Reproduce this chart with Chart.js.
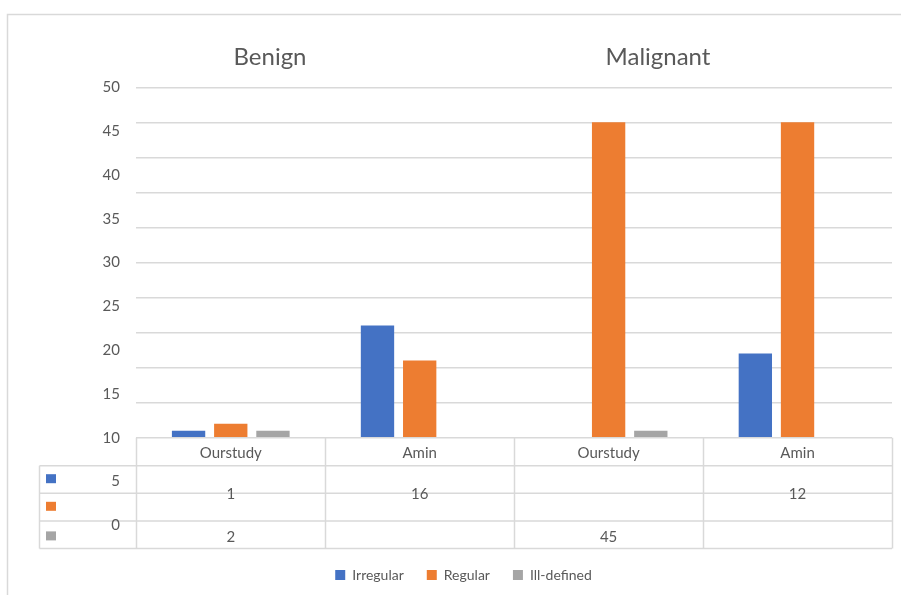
<!DOCTYPE html>
<html>
<head>
<meta charset="utf-8">
<title>Benign / Malignant</title>
<script src="https://cdn.jsdelivr.net/npm/chart.js@4.4.1/dist/chart.umd.min.js"></script>
<style>
  body { margin: 0; background: #fff; }
  canvas { display: block; }
</style>
</head>
<body>
<canvas id="chart" width="901" height="595"></canvas>
<script>
const categories = ['Ourstudy', 'Amin', 'Ourstudy', 'Amin'];
const groupTitles = ['Benign', 'Malignant'];
const seriesNames = ['Irregular', 'Regular', 'Ill-defined'];
const irregular = [1, 16, null, 12];
const regular = [2, 11, 45, 45];
const illDefined = [1, null, 1, null];
// tick labels as printed on the left (they do not sit on the gridlines)
const tickLabels = [50, 45, 40, 35, 30, 25, 20, 15, 10, 5, 0];
// data table rows as printed under the chart
const tableRowTop = ['1', '16', '', '12'];
const tableRowBottom = ['2', '', '45', ''];
const seriesColors = ['#4472C4', '#ED7D31', '#A5A5A5'];

const textColor = '#595959';
const lineColor = '#d9d9d9';

const frameAndTable = {
  id: 'frameAndTable',
  beforeDraw(chart) {
    const c = chart.ctx;
    c.save();
    c.fillStyle = '#fff';
    c.fillRect(0, 0, chart.width, chart.height);
    // outer frame (left + top edges only visible)
    c.strokeStyle = lineColor;
    c.lineWidth = 1.5;
    c.beginPath();
    c.moveTo(7.5, chart.height);
    c.lineTo(7.5, 14.5);
    c.lineTo(chart.width, 14.5);
    c.stroke();
    c.restore();
  },
  afterDraw(chart) {
    const c = chart.ctx;
    const x = chart.scales.x;
    const yText = chart.scales.yText;
    const area = chart.chartArea;
    const colW = (x.right - x.left) / categories.length;
    const headBottom = area.bottom + 28;
    const rowH = 27.6;
    const tableBottom = headBottom + rowH * 3;
    const tableLeft = 39.5;

    c.save();
    c.strokeStyle = lineColor;
    c.lineWidth = 1.5;
    c.beginPath();
    // column lines
    for (let i = 0; i <= categories.length; i++) {
      const cx = Math.round(x.left + i * colW) + 0.5;
      c.moveTo(cx, area.bottom);
      c.lineTo(cx, tableBottom);
    }
    c.moveTo(tableLeft, headBottom);
    c.lineTo(tableLeft, tableBottom);
    // row lines
    for (let r = 0; r <= 3; r++) {
      const ry = headBottom + r * rowH;
      c.moveTo(tableLeft, ry);
      c.lineTo(x.right, ry);
    }
    c.stroke();

    // header: category names
    c.fillStyle = textColor;
    c.textAlign = 'center';
    c.textBaseline = 'middle';
    c.font = '15px Lato';
    categories.forEach((cat, i) => {
      c.fillText(cat, x.getPixelForValue(i), area.bottom + 15);
    });

    // table values
    tableRowTop.forEach((v, i) => {
      if (v) c.fillText(v, x.getPixelForValue(i), headBottom + rowH + 1);
    });
    tableRowBottom.forEach((v, i) => {
      if (v) c.fillText(v, x.getPixelForValue(i), headBottom + rowH * 2.5 + 2);
    });

    // series keys inside the table
    seriesColors.forEach((col, i) => {
      c.fillStyle = col;
      c.fillRect(46, headBottom + rowH * i + 8.5 + (i === 2 ? 2 : 0), 10, 9);
    });

    // left tick labels
    c.fillStyle = textColor;
    c.textAlign = 'right';
    c.font = '15px Lato';
    tickLabels.forEach(v => {
      c.fillText(String(v), 120, yText.getPixelForValue(v));
    });

    // group titles
    c.textAlign = 'center';
    c.font = '24px Lato';
    c.fillText(groupTitles[0], 270, 57);
    c.fillText(groupTitles[1], 658, 57);
    c.restore();
  }
};

const ctx = document.getElementById('chart').getContext('2d');
new Chart(ctx, {
  type: 'bar',
  data: {
    labels: categories,
    datasets: [
      { label: seriesNames[0], data: irregular, backgroundColor: seriesColors[0] },
      { label: seriesNames[1], data: regular, backgroundColor: seriesColors[1] },
      { label: seriesNames[2], data: illDefined, backgroundColor: seriesColors[2] }
    ]
  },
  options: {
    responsive: false,
    animation: false,
    borderWidth: 0,
    categoryPercentage: 0.67,
    barPercentage: 0.79,
    layout: { padding: { top: 87.3, left: 35, right: 9, bottom: 3 } },
    scales: {
      x: {
        grid: { display: false },
        border: { display: false },
        ticks: { display: false },
        afterFit: scale => { scale.height = 107.3; }
      },
      y: {
        min: 0,
        max: 50,
        ticks: { display: false, stepSize: 5 },
        grid: { color: lineColor, lineWidth: 1.5, drawTicks: false },
        border: { display: false },
        afterFit: scale => { scale.width = 101.3; }
      },
      yText: {
        position: 'left',
        display: false,
        min: 10,
        max: 50
      }
    },
    plugins: {
      legend: {
        position: 'bottom',
        labels: {
          boxWidth: 10,
          boxHeight: 10,
          padding: 23,
          color: textColor,
          font: { family: 'Lato', size: 14 }
        }
      },
      tooltip: { enabled: false }
    }
  },
  plugins: [frameAndTable]
});
</script>
</body>
</html>
